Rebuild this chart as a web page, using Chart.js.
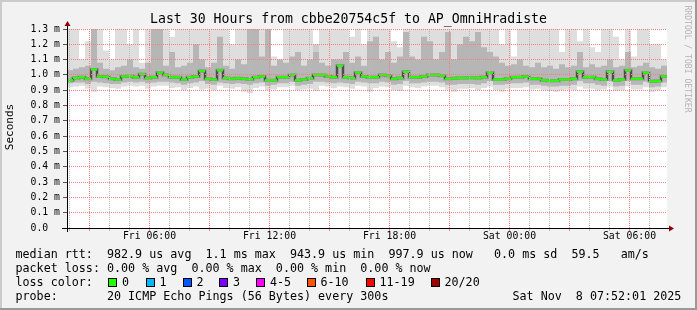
<!DOCTYPE html>
<html>
<head>
<meta charset="utf-8">
<script src="https://cdn.jsdelivr.net/npm/chart.js@4.4.1/dist/chart.umd.min.js"></script>
<style>
  body { margin: 0; background: #fff; }
  #wrap { position: relative; width: 697px; height: 310px; font-family: 'DejaVu Sans Mono', monospace; color: #000; overflow: hidden; }
  #wrap canvas { position: absolute; left: 0; top: 0; }
  .txt { position: absolute; white-space: pre; font-size: 11.7px; line-height: 14px; }
  .box { position: absolute; width: 9px; height: 9px; box-sizing: border-box; border: 1px solid #000; top: 278px; }
  #title { position: absolute; left: 0; width: 697px; top: 11px; text-align: center; font-size: 13.2px; line-height: 16px; white-space: pre; }
  #ylab { position: absolute; left: -30px; top: 119.5px; width: 80px; height: 14px; line-height: 14px; text-align: center; font-size: 11px; transform: rotate(-90deg); }
  #mark { position: absolute; left: 627.5px; top: 54px; width: 120px; height: 10px; line-height: 10px; text-align: center; font-size: 8.1px; color: #b4b4b4; transform: rotate(90deg); white-space: pre; }
</style>
</head>
<body>
<div id="wrap">
  <canvas id="rrd" width="697" height="310"></canvas>
  <div id="title">Last 30 Hours from cbbe20754c5f to AP_OmniHradiste</div>
  <div id="ylab">Seconds</div>
  <div id="mark">RRDTOOL / TOBI OETIKER</div>
  <div class="txt" style="left:15.5px;top:247.2px">median rtt:  982.9 us avg  1.1 ms max  943.9 us min  997.9 us now   0.0 ms sd  59.5   am/s</div>
  <div class="txt" style="left:15.5px;top:261.2px">packet loss: 0.00 % avg  0.00 % max  0.00 % min  0.00 % now</div>
  <div class="txt" style="left:15.5px;top:275.2px">loss color:</div>
  <div id="losslegend"></div>
  <div class="txt" style="left:15.5px;top:289.2px">probe:       20 ICMP Echo Pings (56 Bytes) every 300s</div>
  <div class="txt" style="left:512.5px;top:289.2px">Sat Nov  8 07:52:01 2025</div>
</div>
<script>
// time axis in hours since Fri 00:00, one slot = 18 min
const startHour = 1.875;
const slotHours = 0.3;

// median rtt per slot (ms)
const median = [
  0.965, 0.98, 0.985, 0.975, 1.035, 0.99, 0.988, 0.975, 0.97, 0.99,
  0.992, 0.985, 1.005, 0.98, 0.985, 1.015, 1.0, 0.985, 0.985, 0.97,
  0.985, 0.99, 1.025, 0.975, 0.97, 1.03, 0.98, 0.975, 0.978, 0.975,
  0.972, 0.985, 0.99, 0.965, 0.965, 0.985, 0.985, 1.0, 0.965, 0.97,
  0.978, 1.0, 1.0, 0.99, 0.985, 1.06, 0.985, 0.98, 1.015, 0.99,
  0.985, 0.985, 1.0, 0.995, 0.975, 0.98, 1.02, 0.985, 0.985, 0.99,
  1.0, 1.0, 0.995, 0.975, 0.978, 0.98, 0.98, 0.982, 0.98, 0.985,
  1.015, 0.97, 0.97, 0.975, 0.985, 0.985, 0.99, 0.975, 0.975, 0.965,
  0.962, 0.962, 0.97, 0.97, 0.975, 1.02, 0.985, 0.985, 0.975, 0.97,
  1.02, 0.965, 0.97, 1.03, 0.975, 0.975, 1.015, 0.958, 0.96, 0.99
];
// slowest ping per slot (ms)
const maxPing = [
  1.35, 1.35, 1.1, 1.22, 1.35, 1.35, 1.16, 1.1, 1.35, 1.35,
  1.2, 1.35, 1.08, 1.35, 1.35, 1.35, 1.35, 1.25, 1.35, 1.35,
  1.35, 1.35, 1.35, 1.3, 1.35, 1.35, 1.35, 1.2, 1.35, 1.35,
  1.35, 1.35, 1.35, 1.35, 1.12, 1.1, 1.35, 1.35, 1.3, 1.35,
  1.35, 1.15, 1.35, 1.35, 1.35, 1.35, 1.35, 1.25, 1.35, 1.2,
  1.35, 1.35, 1.35, 1.35, 1.22, 1.18, 1.35, 1.35, 1.35, 1.35,
  1.35, 1.35, 1.35, 1.3, 1.35, 1.35, 1.35, 1.35, 1.35, 1.35,
  1.35, 1.35, 1.2, 1.35, 1.12, 1.35, 1.35, 1.3, 1.35, 1.35,
  1.35, 1.35, 1.15, 1.35, 1.35, 1.22, 1.35, 1.18, 1.15, 1.35,
  1.35, 1.25, 1.1, 1.35, 1.12, 1.35, 1.35, 1.2, 1.2, 1.1
];
// upper edge of the dense smoke (ms)
const hiPing = [
  1.03, 1.04, 1.05, 1.06, 1.3, 1.08, 1.04, 1.03, 1.05, 1.06,
  1.1, 1.05, 1.04, 1.08, 1.3, 1.3, 1.06, 1.15, 1.05, 1.06,
  1.08, 1.2, 1.1, 1.05, 1.08, 1.25, 1.06, 1.04, 1.1, 1.07,
  1.3, 1.3, 1.12, 1.3, 1.06, 1.1, 1.08, 1.12, 1.15, 1.06,
  1.1, 1.2, 1.08, 1.06, 1.1, 1.1, 1.15, 1.08, 1.12, 1.06,
  1.22, 1.25, 1.1, 1.15, 1.08, 1.12, 1.28, 1.12, 1.1, 1.25,
  1.22, 1.1, 1.15, 1.28, 1.1, 1.2, 1.25, 1.22, 1.28, 1.18,
  1.15, 1.12, 1.08, 1.06, 1.07, 1.1, 1.06, 1.05, 1.08, 1.05,
  1.06, 1.04, 1.07, 1.05, 1.06, 1.15, 1.05, 1.07, 1.05, 1.06,
  1.1, 1.05, 1.06, 1.15, 1.05, 1.06, 1.08, 1.05, 1.04, 1.06
];
// lower edge of the dense smoke (ms)
const loPing = [
  0.945, 0.95, 0.95, 0.94, 0.955, 0.95, 0.945, 0.94, 0.94, 0.95,
  0.955, 0.95, 0.955, 0.945, 0.95, 0.955, 0.955, 0.95, 0.945, 0.935,
  0.945, 0.95, 0.96, 0.94, 0.935, 0.95, 0.945, 0.94, 0.945, 0.94,
  0.935, 0.945, 0.95, 0.93, 0.935, 0.945, 0.945, 0.955, 0.93, 0.935,
  0.94, 0.955, 0.955, 0.95, 0.945, 0.95, 0.945, 0.94, 0.955, 0.95,
  0.945, 0.945, 0.955, 0.95, 0.935, 0.94, 0.96, 0.945, 0.945, 0.95,
  0.955, 0.955, 0.95, 0.935, 0.935, 0.94, 0.94, 0.94, 0.935, 0.945,
  0.96, 0.935, 0.935, 0.94, 0.945, 0.945, 0.95, 0.935, 0.935, 0.93,
  0.925, 0.925, 0.93, 0.93, 0.935, 0.96, 0.945, 0.945, 0.935, 0.93,
  0.96, 0.925, 0.93, 0.96, 0.935, 0.935, 0.955, 0.92, 0.925, 0.95
];
// fastest ping per slot (ms)
const minPing = [
  0.92, 0.925, 0.93, 0.91, 0.89, 0.925, 0.92, 0.915, 0.91, 0.925,
  0.93, 0.925, 0.93, 0.91, 0.925, 0.93, 0.93, 0.915, 0.92, 0.9,
  0.915, 0.925, 0.905, 0.91, 0.9, 0.93, 0.915, 0.91, 0.92, 0.89,
  0.88, 0.915, 0.925, 0.9, 0.905, 0.92, 0.92, 0.93, 0.9, 0.905,
  0.91, 0.895, 0.93, 0.925, 0.915, 0.925, 0.92, 0.91, 0.93, 0.925,
  0.89, 0.915, 0.925, 0.92, 0.9, 0.895, 0.93, 0.92, 0.915, 0.925,
  0.93, 0.93, 0.92, 0.905, 0.89, 0.91, 0.91, 0.915, 0.9, 0.915,
  0.925, 0.9, 0.89, 0.91, 0.915, 0.915, 0.92, 0.905, 0.91, 0.9,
  0.895, 0.89, 0.9, 0.905, 0.9, 0.925, 0.91, 0.91, 0.9, 0.905,
  0.925, 0.895, 0.9, 0.925, 0.905, 0.905, 0.92, 0.89, 0.9, 0.92
];

const xTickHours = [6, 12, 18, 24, 30];
const xTickLabels = ['Fri 06:00', 'Fri 12:00', 'Fri 18:00', 'Sat 00:00', 'Sat 06:00'];
const yTickLabels = ['0.0  ', '0.1 m', '0.2 m', '0.3 m', '0.4 m', '0.5 m', '0.6 m',
                     '0.7 m', '0.8 m', '0.9 m', '1.0 m', '1.1 m', '1.2 m', '1.3 m'];

const lossLabels = ['0', '1', '2', '3', '4-5', '6-10', '11-19', '20/20'];
const lossColors = ['#26ff00', '#00b8ff', '#0059ff', '#7e00ff', '#ff00ff', '#ff5500', '#ff0000', '#a10000'];

// loss colour legend
const boxLeft = [108, 145.5, 182.5, 219, 256, 306.5, 365.5, 430.5];
const legendEl = document.getElementById('losslegend');
lossLabels.forEach((lab, i) => {
  const b = document.createElement('div');
  b.className = 'box';
  b.style.left = boxLeft[i] + 'px';
  b.style.background = lossColors[i];
  legendEl.appendChild(b);
  const t = document.createElement('div');
  t.className = 'txt';
  t.style.left = (boxLeft[i] + 14) + 'px';
  t.style.top = '275.2px';
  t.textContent = lab;
  legendEl.appendChild(t);
});

// stepped series: each slot holds its value until the next one
const steps = arr => arr.map((v, i) => ({ x: startHour + i * slotHours, y: v }))
  .concat([{ x: startHour + arr.length * slotHours, y: arr[arr.length - 1] }]);
const centers = arr => arr.map((v, i) => ({ x: startHour + (i + 0.5) * slotHours, y: v }));

const redGrid = 'rgb(248,125,125)';
const greyGrid = 'rgb(185,185,185)';
const monoFont = { family: "'DejaVu Sans Mono', monospace", size: 9.8 };

const framePlugin = {
  id: 'framePlugin',
  beforeDraw(chart) {
    const { ctx, width, height, chartArea: a } = chart;
    ctx.save();
    ctx.fillStyle = '#f2f2f2';
    ctx.fillRect(0, 0, width, height);
    ctx.fillStyle = '#cbcbcb';
    ctx.fillRect(0, 0, width, 2);
    ctx.fillRect(0, 0, 2, height);
    ctx.fillStyle = '#999999';
    ctx.fillRect(0, height - 2, width, 2);
    ctx.fillRect(width - 2, 0, 2, height);
    ctx.fillStyle = '#ffffff';
    ctx.fillRect(a.left, a.top, a.right - a.left, a.bottom - a.top);
    ctx.restore();
  },
  afterDraw(chart) {
    const { ctx, chartArea: a } = chart;
    ctx.save();
    ctx.strokeStyle = '#000';
    ctx.lineWidth = 1;
    ctx.beginPath();
    ctx.moveTo(a.left - 5, a.bottom + 0.5);
    ctx.lineTo(a.right + 3, a.bottom + 0.5);
    ctx.moveTo(a.left + 0.5, a.bottom + 4);
    ctx.lineTo(a.left + 0.5, a.top - 4);
    ctx.stroke();
    ctx.fillStyle = '#8b0000';
    ctx.beginPath();
    ctx.moveTo(a.left + 0.5, a.top - 8);
    ctx.lineTo(a.left - 2.5, a.top - 3);
    ctx.lineTo(a.left + 3.5, a.top - 3);
    ctx.closePath();
    ctx.fill();
    ctx.beginPath();
    ctx.moveTo(a.right + 7, a.bottom + 0.5);
    ctx.lineTo(a.right + 2, a.bottom - 2.5);
    ctx.lineTo(a.right + 2, a.bottom + 3.5);
    ctx.closePath();
    ctx.fill();
    ctx.restore();
  }
};

const band = (data, fill, color, order) => ({
  data: steps(data), stepped: true, fill: fill, backgroundColor: color,
  borderColor: 'transparent', borderWidth: 0, pointRadius: 0, order: order
});

new Chart(document.getElementById('rrd'), {
  type: 'line',
  data: {
    datasets: [
      { data: centers(median), showLine: false, pointStyle: 'line', pointRadius: 3,
        pointBorderWidth: 2.4, pointBorderColor: '#26ff00', pointBackgroundColor: '#26ff00', order: 0 },
      { data: steps(median), stepped: true, fill: false, borderColor: 'rgba(10,10,10,0.9)',
        borderWidth: 1, pointRadius: 0, order: 1 },
      { data: steps(median), stepped: true, fill: false, borderColor: 'rgba(40,40,40,0.35)',
        borderWidth: 3, borderJoinStyle: 'miter', borderCapStyle: 'butt', pointRadius: 0, order: 2 },
      band(hiPing, 4, 'rgba(90,90,90,0.3)', 3),
      band(loPing, false, 'transparent', 4),
      band(maxPing, 6, '#dedede', 5),
      band(minPing, false, 'transparent', 6)
    ]
  },
  options: {
    responsive: false,
    animation: false,
    events: [],
    layout: { padding: { left: 0, top: 29, right: 30, bottom: 0 } },
    plugins: { legend: { display: false }, tooltip: { enabled: false } },
    scales: {
      x: {
        type: 'linear',
        min: startHour,
        max: startHour + 30,
        z: 1,
        afterFit: s => { s.height = 82; },
        afterBuildTicks: s => {
          const t = [];
          for (let h = Math.ceil(s.min); h <= Math.floor(s.max); h++) t.push({ value: h });
          s.ticks = t;
        },
        border: { display: false, dash: [1, 1] },
        grid: {
          z: 1,
          color: c => (c.tick && c.tick.value % 3 === 0) ? redGrid : greyGrid,
          tickColor: c => (c.tick && c.tick.value % 3 === 0) ? redGrid : greyGrid,
          lineWidth: 1,
          tickLength: 3
        },
        ticks: {
          autoSkip: false,
          maxRotation: 0,
          padding: 0,
          color: '#000',
          font: monoFont,
          callback: v => {
            const k = xTickHours.indexOf(v);
            return k >= 0 ? xTickLabels[k] : '';
          }
        }
      },
      y: {
        min: 0,
        max: 1.3,
        z: 1,
        afterFit: s => { s.width = 67; },
        border: { display: false, dash: [1, 1] },
        grid: { z: 1, color: redGrid, tickColor: '#555', lineWidth: 1, tickLength: 4 },
        ticks: {
          stepSize: 0.1,
          padding: 3,
          color: '#000',
          font: monoFont,
          callback: (v, i) => yTickLabels[i]
        }
      }
    }
  },
  plugins: [framePlugin]
});
</script>
</body>
</html>
